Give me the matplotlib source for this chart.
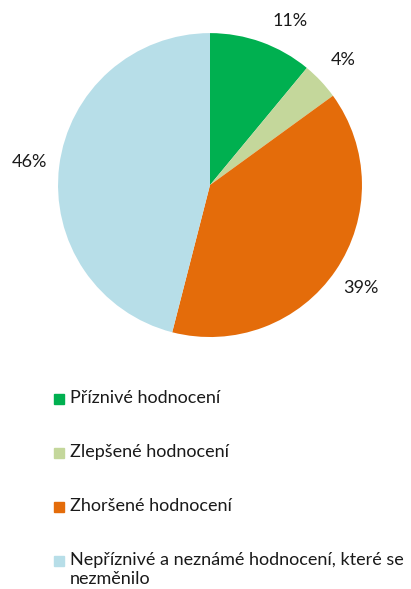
import matplotlib.pyplot as plt
from matplotlib.patches import Rectangle

plt.rcParams['font.family'] = ['Lato', 'DejaVu Sans']

labels = ["Příznivé hodnocení", "Zlepšené hodnocení", "Zhoršené hodnocení",
          "Nepříznivé a neznámé hodnocení, které se\nnezměnilo"]
values = [11, 4, 39, 46]
colors = ["#00B050", "#C4D79B", "#E46C0A", "#B7DEE8"]

fig = plt.figure(figsize=(4.11, 5.89), dpi=100)
ax = fig.add_axes([0.1411, 0.4278, 0.7397, 0.516])
wedges, texts, pcts = ax.pie(values, colors=colors, startangle=90, counterclock=False,
                             autopct="%.0f%%", pctdistance=1.2,
                             wedgeprops=dict(linewidth=0),
                             textprops=dict(fontsize=13, color="#1a1a1a"))
# excel nudged the small top label a bit to the right
x, y = pcts[0].get_position()
pcts[0].set_position((x + 0.12, y - 0.05))
ax.set_xlim(-1, 1)
ax.set_ylim(-1, 1)
ax.set_aspect("equal")
ax.axis("off")

# legend, drawn by hand
y0 = 1 - 399 / 589
step = 54 / 589
for i, (lab, c) in enumerate(zip(labels, colors)):
    y = y0 - i * step
    fig.patches.append(Rectangle((54 / 411, y - 5 / 589), 10 / 411, 10 / 589,
                                 transform=fig.transFigure, color=c))
    fig.text(70 / 411, y + 9 / 589, lab, fontsize=13, color="#1a1a1a",
             va="top", ha="left", linespacing=1.2)

fig.savefig("out.png", dpi=100)
